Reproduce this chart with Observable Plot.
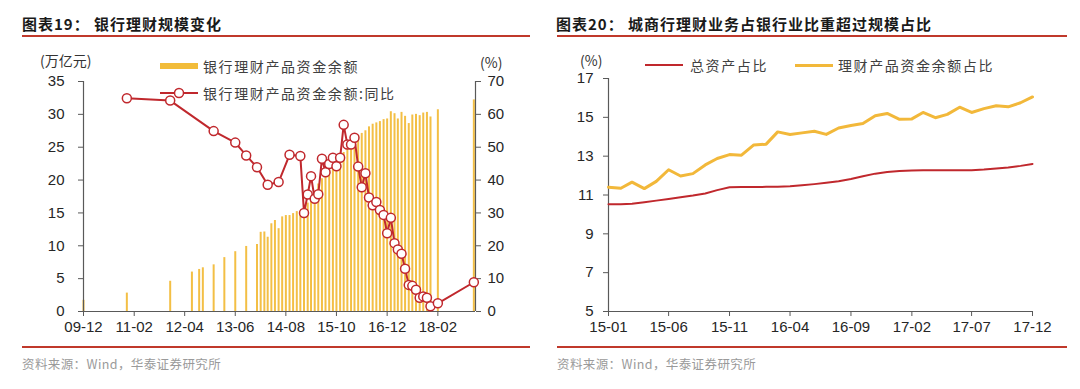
<!DOCTYPE html>
<html><head><meta charset="utf-8">
<script src="https://cdn.jsdelivr.net/npm/d3@7"></script>
<script src="https://cdn.jsdelivr.net/npm/@observablehq/plot@0.6"></script>
<style>
body{margin:0;background:#fff;width:1080px;height:389px;position:relative;overflow:hidden;font-family:"Liberation Sans",Arial,sans-serif;}
.abs{position:absolute;white-space:nowrap;line-height:1;}
.title{font-family:"Noto Sans CJK SC";font-weight:700;font-size:15px;color:#1a1a1a;top:16px;letter-spacing:1px;}
.rule{position:absolute;height:2px;background:#c0392b;}
.src{font-family:"Noto Sans CJK SC";font-size:12.5px;color:#9a9a9a;top:358px;letter-spacing:0.4px;}
.leg{font-family:"Noto Sans CJK SC";font-size:14px;color:#404040;letter-spacing:1.6px;}
.unit{font-family:"Noto Sans CJK SC";font-size:14px;color:#333;}
.chart{position:absolute;top:40px;}
</style></head><body>

<div class="abs title" style="left:22px">图表19：</div>
<div class="abs title" style="left:94px">银行理财规模变化</div>
<div class="abs title" style="left:556px">图表20：</div>
<div class="abs title" style="left:628px">城商行理财业务占银行业比重超过规模占比</div>
<div class="rule" style="left:22px;width:508px;top:35px"></div>
<div class="rule" style="left:557px;width:510px;top:35px"></div>
<div class="rule" style="left:22px;width:508px;top:346px"></div>
<div class="rule" style="left:557px;width:510px;top:346px"></div>
<div class="abs src" style="left:22px">资料来源：Wind，华泰证券研究所</div>
<div class="abs src" style="left:557px">资料来源：Wind，华泰证券研究所</div>

<div id="left" class="chart" style="left:0px"></div>
<div id="right" class="chart" style="left:540px"></div>

<div class="abs unit" style="left:40px;top:53px">(万亿元)</div>
<div class="abs unit" style="left:480px;top:55px">(%)</div>
<div class="abs unit" style="left:580px;top:53px">(%)</div>

<div class="abs" style="left:160px;top:63px;width:38px;height:6px;background:#f2bc3a"></div>
<div class="abs leg" style="left:203px;top:59px">银行理财产品资金余额</div>
<svg class="abs" style="left:155px;top:85px" width="48" height="16"><line x1="5" y1="8" x2="43" y2="8" stroke="#c0282d" stroke-width="2"/><circle cx="24" cy="8" r="4.5" fill="#fff" stroke="#c0282d" stroke-width="1.5"/></svg>
<div class="abs leg" style="left:203px;top:86px">银行理财产品资金余额:同比</div>

<div class="abs" style="left:645px;top:64px;width:38px;height:2px;background:#c0282d"></div>
<div class="abs leg" style="left:690px;top:58px">总资产占比</div>
<div class="abs" style="left:795px;top:63.5px;width:38px;height:3px;background:#f2b83a"></div>
<div class="abs leg" style="left:838px;top:58px">理财产品资金余额占比</div>

<script>
// ---------- Chart 19 data ----------
const barMonths = ["2009-12","2010-12","2011-12","2012-06","2012-08","2012-09","2012-12","2013-03","2013-06","2013-09","2013-12",
 "2014-01","2014-02","2014-03","2014-04","2014-05","2014-06","2014-07","2014-08","2014-09","2014-10","2014-11","2014-12",
 "2015-01","2015-02","2015-03","2015-04","2015-05","2015-06","2015-07","2015-08","2015-09","2015-10","2015-11","2015-12",
 "2016-01","2016-02","2016-03","2016-04","2016-05","2016-06","2016-07","2016-08","2016-09","2016-10","2016-11","2016-12",
 "2017-01","2017-02","2017-03","2017-04","2017-05","2017-06","2017-07","2017-08","2017-09","2017-10","2017-11","2017-12",
 "2018-02","2018-12"];
const barValues = [1.7,2.8,4.6,6.0,6.4,6.65,7.1,8.2,9.1,9.9,10.2,
 12.05,12.1,11.3,13.35,13.85,12.6,14.4,14.6,14.6,14.9,15.2,15.0,
 15.7,16.5,16.8,18.2,19.4,20.2,21.2,22.0,22.5,23.0,23.6,24.2,
 25.1,25.5,26.1,26.8,27.1,27.5,28.1,28.5,28.7,28.9,29.2,29.3,
 30.4,30.1,29.3,30.3,29.7,28.6,29.9,30.0,29.8,30.2,30.3,29.6,
 30.7,32.2];
const yoyMonths = ["2010-12","2011-12","2012-12","2013-06","2013-09","2013-12","2014-03","2014-06","2014-09","2014-12",
 "2015-01","2015-02","2015-03","2015-04","2015-05","2015-06","2015-07","2015-08","2015-09","2015-10","2015-11","2015-12",
 "2016-01","2016-02","2016-03","2016-04","2016-05","2016-06","2016-07","2016-08","2016-09","2016-10","2016-11","2016-12",
 "2017-01","2017-02","2017-03","2017-04","2017-05","2017-06","2017-07","2017-08","2017-09","2017-10","2017-11","2017-12",
 "2018-02","2018-12"];
const yoyValues = [64.9,64.2,54.9,51.4,47.5,43.9,38.6,39.4,47.7,47.3,
 30.0,35.6,41.2,34.3,35.7,46.5,42.4,44.9,46.8,44.2,46.8,56.8,
 50.8,50.8,52.9,44.1,37.8,42.1,34.7,32.3,33.3,30.9,29.4,23.8,
 28.5,20.8,18.9,17.6,13.0,8.1,7.8,6.6,4.2,4.6,4.2,1.6,
 2.5,8.9];
const leftTicks19 = [0,5,10,15,20,25,30,35];
const xTicks19 = ["2009-12","2011-02","2012-04","2013-06","2014-08","2015-10","2016-12","2018-02"];

// ---------- Chart 20 data ----------
const months20 = ["2015-01","2015-02","2015-03","2015-04","2015-05","2015-06","2015-07","2015-08","2015-09","2015-10","2015-11","2015-12",
 "2016-01","2016-02","2016-03","2016-04","2016-05","2016-06","2016-07","2016-08","2016-09","2016-10","2016-11","2016-12",
 "2017-01","2017-02","2017-03","2017-04","2017-05","2017-06","2017-07","2017-08","2017-09","2017-10","2017-11","2017-12"];
const assetShare = [10.52,10.52,10.55,10.63,10.71,10.79,10.88,10.97,11.08,11.25,11.40,11.41,
 11.41,11.42,11.43,11.45,11.50,11.56,11.63,11.71,11.82,11.97,12.10,12.18,
 12.23,12.26,12.28,12.28,12.27,12.27,12.28,12.31,12.36,12.42,12.50,12.60];
const wmpShare = [11.40,11.35,11.66,11.33,11.70,12.30,11.98,12.10,12.55,12.88,13.08,13.05,
 13.58,13.62,14.25,14.12,14.20,14.28,14.12,14.45,14.58,14.68,15.08,15.20,
 14.90,14.92,15.25,14.98,15.15,15.52,15.25,15.45,15.60,15.54,15.75,16.05];
const yTicks20 = [5,7,9,11,13,15,17];
const xTicks20 = ["2015-01","2015-06","2015-11","2016-04","2016-09","2017-02","2017-07","2017-12"];

const parse = d3.utcParse("%Y-%m");
const fmt = d3.utcFormat("%y-%m");
const RED = "#c0282d", YEL = "#f2b83a", BAR = "#f3bf45", AX = "#595959";

const bars = barMonths.map((m,i)=>({date:parse(m), value:barValues[i]}));
const yoy = yoyMonths.map((m,i)=>({date:parse(m), value:yoyValues[i]}));
const x19 = [parse("2009-12"), new Date(Date.UTC(2018,11,15))];

const left = Plot.plot({
  width:540, height:300, marginLeft:83, marginRight:65, marginTop:41, marginBottom:29,
  style:{fontFamily:"'Liberation Sans', Arial, sans-serif", fontSize:"15px", color:"#262626", background:"transparent", overflow:"visible"},
  x:{type:"utc", domain:x19},
  y:{domain:[0,35]},
  marks:[
    Plot.ruleX(bars,{x:"date", y1:0, y2:"value", stroke:BAR, strokeWidth:2}),
    Plot.axisY({ticks:leftTicks19, tickSize:5, tickPadding:14, label:null, stroke:AX}),
    Plot.axisY({anchor:"right", ticks:leftTicks19, tickFormat:d=>d*2, tickSize:5, tickPadding:7, label:null, stroke:AX}),
    Plot.axisX({ticks:xTicks19.map(parse), tickFormat:fmt, tickSize:5, tickPadding:5, label:null, stroke:AX}),
    Plot.ruleY([0],{stroke:AX, strokeWidth:1.2}),
    Plot.ruleX([x19[0]],{stroke:AX, strokeWidth:1.2}),
    Plot.ruleX([x19[1]],{stroke:AX, strokeWidth:1.2}),
    Plot.line(yoy,{x:"date", y:d=>d.value/2, stroke:RED, strokeWidth:2}),
    Plot.dot(yoy,{x:"date", y:d=>d.value/2, r:4.5, fill:"white", stroke:RED, strokeWidth:1.5})
  ]
});
document.getElementById("left").append(left);

const d20 = months20.map((m,i)=>({date:parse(m), asset:assetShare[i], wmp:wmpShare[i]}));
const right = Plot.plot({
  width:540, height:300, marginLeft:68, marginRight:48, marginTop:38, marginBottom:29,
  style:{fontFamily:"'Liberation Sans', Arial, sans-serif", fontSize:"15px", color:"#262626", background:"transparent", overflow:"visible"},
  x:{type:"utc", domain:[parse("2015-01"), parse("2017-12")]},
  y:{domain:[5,17]},
  marks:[
    Plot.axisY({ticks:yTicks20, tickSize:5, tickPadding:10, label:null, stroke:AX}),
    Plot.axisX({ticks:xTicks20.map(parse), tickFormat:fmt, tickSize:5, tickPadding:5, label:null, stroke:AX}),
    Plot.ruleY([5],{stroke:AX, strokeWidth:1.2}),
    Plot.ruleX([parse("2015-01")],{stroke:AX, strokeWidth:1.2}),
    Plot.line(d20,{x:"date", y:"asset", stroke:RED, strokeWidth:2}),
    Plot.line(d20,{x:"date", y:"wmp", stroke:YEL, strokeWidth:3})
  ]
});
document.getElementById("right").append(right);
</script>
</body></html>
